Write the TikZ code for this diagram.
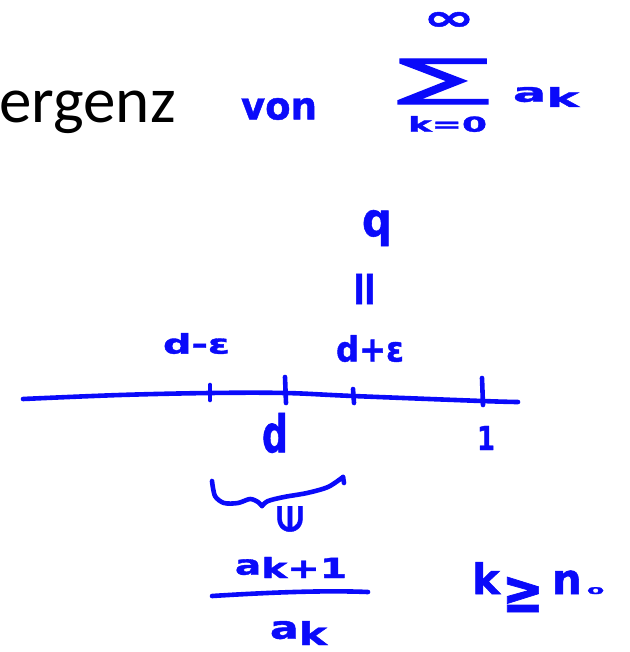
\documentclass[tikz,border=0pt]{standalone}
\usepackage{fontspec}
\usepackage{graphicx}
\newfontfamily\carlitofont{Carlito}
\newfontfamily\handfont{DejaVu Sans}[BoldFeatures={FakeBold=1.2}]
\newfontfamily\sumfont{DejaVu Sans}[FakeBold=2]
\definecolor{ink}{RGB}{10,10,250}
\tikzset{
  hw/.style={text=ink, font=\handfont\bfseries, inner sep=0pt, outer sep=0pt, anchor=north west},
  pen/.style={draw=ink, line width=4.6pt, line cap=round, line join=round},
}
\begin{document}
\begin{tikzpicture}[x=1pt,y=-1pt]
\useasboundingbox (0,0) rectangle (629,652);
% printed heading
\node[inner sep=0pt, anchor=base west, font=\carlitofont\fontsize{65}{65}\selectfont] (head) at (-1,123) {ergenz};
% top line: von sum a_k
\node[hw] (von) at (241,98) {\resizebox*{76pt}{22pt}{von}};
\node[hw] (inf) at (423,12) {\resizebox*{52pt}{18pt}{∞}};
\node[hw, font=\sumfont] (sum) at (397,59) {\resizebox*{93pt}{45pt}{∑}};
\node[hw] (low) at (408,116) {\resizebox*{79pt}{16pt}{k=0}};
\node[hw] (ak) at (513,87) {\resizebox*{66pt}{20pt}{a\raisebox{-.2em}{k}}};
% q = d+eps
\node[hw] (q) at (362,210) {\resizebox*{30pt}{36pt}{q}};
\node[hw, anchor=center] (eq) at (368,289) {\rotatebox{90}{\fontsize{48}{48}\selectfont =}};
\node[hw] (dme) at (163,333) {\resizebox*{67pt}{21pt}{d-ε}};
\node[hw] (dpe) at (336,335) {\resizebox*{68pt}{27pt}{d+ε}};
% number line
\draw[pen] plot[smooth, tension=0.6] coordinates {(23,399) (120,395) (210,393) (285,393) (353,396) (482,401) (518,402)};
\coordinate (t1a) at (210,385); \coordinate (t1b) at (210,400);
\coordinate (t2a) at (285,377); \coordinate (t2b) at (286,403);
\coordinate (t3a) at (353,389); \coordinate (t3b) at (354,403);
\coordinate (t4a) at (482,378); \coordinate (t4b) at (483,405);
\draw[pen] (t1a) -- (t1b);
\draw[pen] (t2a) -- (t2b);
\draw[pen] (t3a) -- (t3b);
\draw[pen] (t4a) -- (t4b);
\node[hw] (d) at (262,413) {\resizebox*{26pt}{40pt}{d}};
\node[hw] (one) at (477,426) {\resizebox*{18pt}{24pt}{1}};
% brace
\draw[pen] plot[smooth, tension=0.5] coordinates {(212,481) (215,496) (224,503) (238,503) (250,499) (258,502) (262,506)};
\draw[pen] plot[smooth, tension=0.5] coordinates {(262,506) (268,501) (284,497) (307,493) (328,487) (343,477)};
\draw[pen] (343,477) -- (344,483);
\node[hw, anchor=center] (elem) at (290,519) {\rotatebox{90}{\fontsize{34}{34}\selectfont ∈}};
% fraction
\node[hw] (num) at (235,557) {\resizebox*{112pt}{21pt}{a\raisebox{-.12em}{k+1}}};
\coordinate (fb0) at (212,596);
\coordinate (fb1) at (368,592);
\draw[pen] (fb0) .. controls (260,593) and (320,590) .. (fb1);
\node[hw] (den) at (270,621) {\resizebox*{57pt}{24pt}{a\raisebox{-.2em}{k}}};
% k >= n0
\node[hw, anchor=base west] (cond) at (472,594) {\fontsize{42}{42}\selectfont k\kern2pt\raisebox{-18pt}{\resizebox*{42pt}{35pt}{≥}}\kern8pt n\kern5pt\resizebox*{18pt}{7pt}{₀}};
\end{tikzpicture}
\end{document}
